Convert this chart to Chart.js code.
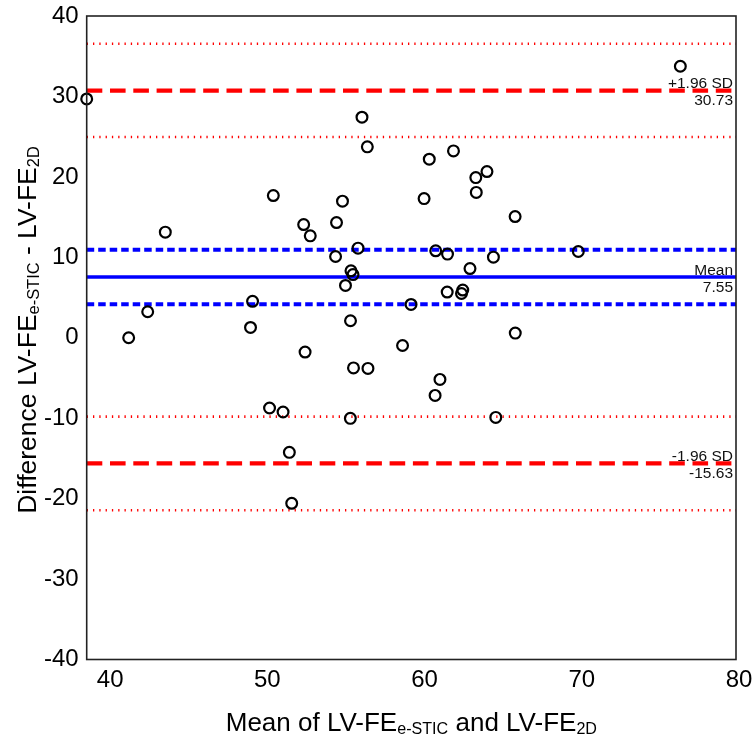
<!DOCTYPE html>
<html><head><meta charset="utf-8">
<script src="https://cdn.jsdelivr.net/npm/chart.js@4/dist/chart.umd.min.js"></script>
<style>html,body{margin:0;padding:0;background:#fff;}#wrap{width:753px;height:744px;}</style>
</head><body><div id="wrap"><canvas id="c" width="753" height="744"></canvas></div>
<script>
// ---- data ----
const meanValues = [38.7, 43.7, 41.37, 42.58, 49.25, 49.12, 50.57, 52.5, 52.92, 54.59, 54.97, 54.53, 55.96, 55.51, 55.64, 55.16, 56.21, 56.55, 60.49, 62.03, 60.16, 63.45, 64.16, 63.48, 65.95, 60.9, 61.65, 63.08, 64.57, 61.63, 62.62, 62.54, 59.33, 69.97, 76.46, 65.96, 55.48, 52.59, 55.67, 56.59, 58.79, 61.17, 60.86, 50.33, 51.19, 55.47, 64.72, 51.59, 51.74];
const diffValues = [29.69, 13.13, 0.0, 3.23, 4.53, 1.28, 17.68, 14.07, 12.67, 14.32, 16.98, 10.1, 11.14, 8.32, 7.85, 6.5, 27.42, 23.73, 22.2, 23.23, 17.3, 19.91, 20.66, 18.07, 15.07, 10.81, 10.4, 8.6, 10.02, 5.68, 5.93, 5.5, 4.14, 10.72, 33.75, 0.58, 2.11, -1.78, -3.75, -3.81, -0.96, -5.18, -7.17, -8.73, -9.23, -10.02, -9.9, -14.25, -20.58];
const meanDiff = 7.55;
const limitsOfAgreement = [30.73, -15.63];
const meanCI = [10.95, 4.15];
const upperLimitCI = [36.55, 24.95];
const lowerLimitCI = [-9.8, -21.45];
const xRange = [38.7, 80];
const yRange = [-40, 40];
const xTickValues = [40, 50, 60, 70, 80];
const lineLabels = [
  {value: limitsOfAgreement[0], top: '+1.96 SD', bottom: '30.73'},
  {value: meanDiff, top: 'Mean', bottom: '7.55'},
  {value: limitsOfAgreement[1], top: '-1.96 SD', bottom: '-15.63'}
];
const xTitleRuns = [['Mean of LV-FE', false], ['e-STIC', true], [' and LV-FE', false], ['2D', true]];
const yTitleRuns = [['Difference LV-FE', false], ['e-STIC', true], [' - LV-FE', false], ['2D', true]];

const FONT = '"Liberation Sans", Arial, Helvetica, sans-serif';

function hline(v, color, width, dash) {
  return {type: 'line', data: [{x: xRange[0], y: v}, {x: xRange[1], y: v}],
    borderColor: color, borderWidth: width, borderDash: dash, pointRadius: 0,
    fill: false, tension: 0, order: 2, clip: false, borderCapStyle: 'butt'};
}

const datasets = [
  {type: 'scatter', data: meanValues.map((x, i) => ({x: x, y: diffValues[i]})),
   pointStyle: 'circle', pointRadius: 5.4, pointBorderWidth: 2.2, pointBorderColor: '#000',
   pointBackgroundColor: 'rgba(0,0,0,0)', order: 0, clip: false, showLine: false},
  hline(upperLimitCI[0], '#ff0000', 2.6, [1.3, 5]),
  hline(upperLimitCI[1], '#ff0000', 2.6, [1.3, 5]),
  hline(lowerLimitCI[0], '#ff0000', 2.6, [1.3, 5]),
  hline(lowerLimitCI[1], '#ff0000', 2.6, [1.3, 5]),
  hline(limitsOfAgreement[0], '#ff0000', 4.2, [15.6, 7.7]),
  hline(limitsOfAgreement[1], '#ff0000', 4.2, [15.6, 7.7]),
  hline(meanCI[0], '#0000ff', 4, [7.5, 4]),
  hline(meanCI[1], '#0000ff', 4, [7.5, 4]),
  hline(meanDiff, '#0000ff', 3.4, [])
];

function drawRuns(ctx, runs, size) {
  const subSize = size * 0.62;
  let total = 0;
  const widths = runs.map(r => {
    ctx.font = (r[1] ? subSize : size) + 'px ' + FONT;
    const w = ctx.measureText(r[0]).width; total += w; return w;
  });
  let x = -total / 2;
  runs.forEach((r, i) => {
    ctx.font = (r[1] ? subSize : size) + 'px ' + FONT;
    ctx.fillText(r[0], x, r[1] ? size * 0.13 : 0);
    x += widths[i];
  });
}

const decor = {
  id: 'decor',
  afterDatasetsDraw(chart) {
    const ctx = chart.ctx, a = chart.chartArea, ys = chart.scales.y;
    ctx.save();
    ctx.strokeStyle = '#222'; ctx.lineWidth = 1.6;
    ctx.strokeRect(a.left, a.top, a.right - a.left, a.bottom - a.top);
    ctx.fillStyle = '#111'; ctx.textAlign = 'right'; ctx.textBaseline = 'alphabetic';
    ctx.font = '15.5px ' + FONT;
    lineLabels.forEach(l => {
      const py = ys.getPixelForValue(l.value);
      ctx.fillText(l.top, a.right - 3, py - 2.5);
      ctx.fillText(l.bottom, a.right - 3, py + 14.5);
    });
    ctx.fillStyle = '#000'; ctx.textAlign = 'left';
    ctx.save();
    ctx.translate((a.left + a.right) / 2, 731);
    drawRuns(ctx, xTitleRuns, 26);
    ctx.restore();
    ctx.save();
    ctx.translate(36, 330);
    ctx.rotate(-Math.PI / 2);
    drawRuns(ctx, yTitleRuns, 26.5);
    ctx.restore();
    ctx.restore();
  }
};

new Chart(document.getElementById('c'), {
  type: 'scatter',
  data: {datasets: datasets},
  options: {
    responsive: false, animation: false, devicePixelRatio: 1,
    layout: {autoPadding: false, padding: {top: 16, right: 17, left: 0, bottom: 0}},
    plugins: {legend: {display: false}, tooltip: {enabled: false}},
    scales: {
      x: {type: 'linear', min: xRange[0], max: xRange[1],
        grid: {display: false, drawTicks: false}, border: {display: false},
        afterBuildTicks: s => { s.ticks = xTickValues.map(v => ({value: v})); },
        afterFit: s => { s.height = 84.5; s.paddingLeft = 0; s.paddingRight = 0; },
        ticks: {color: '#000', font: {family: FONT, size: 24}, padding: 6, labelOffset: 3, autoSkip: false, maxRotation: 0}},
      y: {type: 'linear', min: yRange[0], max: yRange[1],
        grid: {display: false, drawTicks: false}, border: {display: false},
        afterFit: s => { s.width = 86.7; s.paddingTop = 0; s.paddingBottom = 0; },
        ticks: {color: '#000', font: {family: FONT, size: 24}, padding: 8, stepSize: 10}}
    }
  },
  plugins: [decor]
});
</script></body></html>
